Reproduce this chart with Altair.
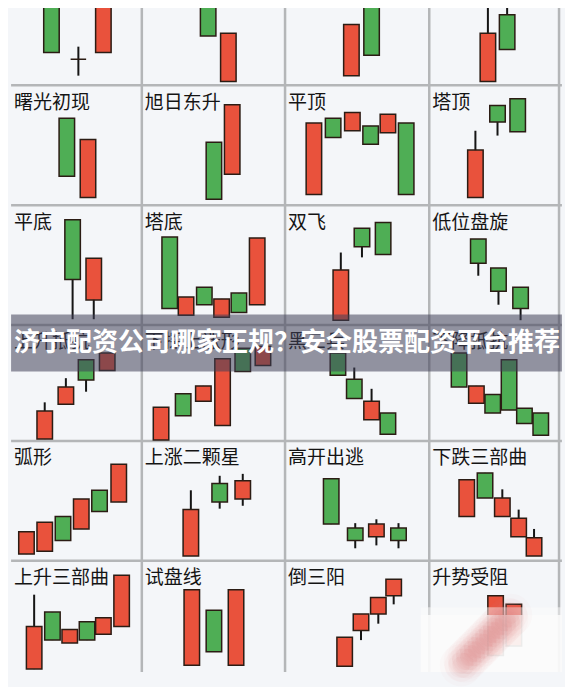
import altair as alt
import pandas as pd

# ---------------- data ----------------
pattern_names = ["", "", "", "",
                 "曙光初现", "旭日东升", "平顶", "塔顶",
                 "平底", "塔底", "双飞", "低位盘旋",
                 "上升抵抗", "下探上涨形", "黑三兵", "下降抵抗",
                 "弧形", "上涨二颗星", "高开出逃", "下跌三部曲",
                 "上升三部曲", "试盘线", "倒三阳", "升势受阻"]

# candles: cell index, time position inside cell, open, close, high, low (price units inside cell)
cand_cell = [0, 0, 0, 1, 1, 2, 2, 3, 3,
             4, 4, 5, 5, 6, 6, 6, 6, 6, 6, 7, 7, 7,
             8, 8, 9, 9, 9, 9, 9, 9, 10, 10, 10, 11, 11, 11,
             12, 12, 12, 12, 13, 13, 13, 13, 13, 13, 14, 14, 14, 14, 15, 15, 15, 15, 15, 15,
             16, 16, 16, 16, 16, 16, 17, 17, 17, 18, 18, 18, 18, 19, 19, 19, 19, 19,
             20, 20, 20, 20, 20, 20, 21, 21, 21, 22, 22, 22, 22, 23, 23]
cand_t = [42, 70, 96, 69, 90, 69, 90, 61, 81,
          58, 80, 75, 94, 30, 50, 70, 89, 107, 126, 48, 71, 92,
          64, 86, 29, 46, 65, 83, 101, 120, 58, 80, 102, 51, 72, 95,
          35, 57, 78, 100, 20, 43, 64, 84, 105, 126, 55, 72, 90, 107, 31, 49, 66, 83, 99, 116,
          16, 35, 54, 73, 92, 112, 51, 81, 105, 48, 73, 95, 118, 39, 58, 76, 93, 109,
          24, 43, 61, 79, 96, 115, 52, 75, 98, 62, 79, 97, 113, 69, 88]
cand_open = [90, 27, 34, 90, 4, 10, 90, 4, 73,
             90, 8, 65, 32, 11, 90, 77, 82, 75, 85, 8, 103, 110,
             109, 26, 91, 10, 39, 8, 33, 21, 5, 100, 106, 89, 59, 39,
             2, 38, 84, 73, 1, 49, 41, 16, 96, 78, 91, 64, 22, 29, 91, 39, 48, 84, 34, 29,
             7, 10, 46, 33, 73, 61, 5, 80, 64, 85, 34, 25, 34, 46, 91, 46, 25, 5,
             12, 71, 39, 61, 48, 56, 16, 73, 16, 15, 52, 69, 88, 26, 36]
cand_close = [34, 27, 90, 51, 54, 63, 31, 54, 37,
              30, 68, 6, 104, 85, 70, 96, 63, 94, 11, 57, 86, 76,
              47, 69, 17, 29, 21, 27, 13, 90, 57, 81, 73, 64, 35, 17,
              31, 56, 63, 91, 35, 26, 57, 85, 72, 98, 68, 44, 41, 7, 56, 57, 29, 32, 18, 6,
              30, 40, 21, 64, 51, 100, 53, 61, 83, 38, 21, 38, 21, 84, 65, 65, 44, 24,
              56, 42, 53, 42, 65, 109, 94, 30, 94, 45, 69, 86, 105, 88, 79]
cand_high = [90, 40, 90, 90, 54, 63, 90, 90, 90,
             90, 68, 65, 104, 85, 90, 96, 82, 94, 85, 77, 103, 110,
             109, 69, 91, 29, 39, 27, 33, 90, 75, 100, 106, 89, 59, 39,
             40, 65, 84, 91, 35, 49, 57, 85, 96, 98, 91, 76, 54, 29, 91, 57, 48, 84, 34, 29,
             30, 40, 46, 64, 73, 100, 73, 88, 90, 85, 39, 43, 39, 84, 91, 74, 53, 33,
             89, 71, 53, 61, 65, 109, 94, 73, 94, 45, 69, 86, 105, 88, 79]
cand_low = [34, 10, 34, 51, 4, 10, 31, 4, 37,
            30, 8, 6, 32, 11, 70, 77, 63, 75, 11, 8, 72, 76,
            6, 6, 17, 10, 21, 8, 13, 21, 5, 70, 73, 51, 21, 5,
            2, 38, 51, 73, 1, 26, 41, 16, 72, 78, 68, 44, 22, 7, 56, 39, 29, 32, 18, 6,
            7, 10, 21, 33, 51, 61, 5, 54, 57, 38, 13, 16, 13, 46, 65, 46, 25, 5,
            12, 42, 39, 42, 48, 56, 16, 30, 16, 15, 42, 59, 79, 26, 36]

banner_text = "济宁配资公司哪家正规？安全股票配资平台推荐"

# watermark smear (blurred pink streak)
smear_x = [468, 472, 476, 480, 484, 488, 492, 496, 500, 504, 508, 512, 516, 520]
smear_y = [680, 676, 672, 668, 664, 660, 656, 652, 648, 644, 640, 636, 632, 628]

# ---------------- layout ----------------
col_left = [0, 136, 285, 435]
row_top = [-44, 80, 204, 328, 448, 572]
row_bottom = [80, 204, 328, 448, 572, 696]
v_lines = [136, 285, 435, 570]
h_lines = [80, 204, 328, 448, 572]

RED = "#e9523c"
GREEN = "#4fae55"
EDGE = "#2b1c14"
BG = "#f4f6f9"

xs = alt.Scale(domain=[2, 571], nice=False, zero=False)
ys = alt.Scale(domain=[0, 687], nice=False, zero=False, reverse=True)


def X(f):
    return alt.X(f, type="quantitative", scale=xs, axis=None)


def Y(f):
    return alt.Y(f, type="quantitative", scale=ys, axis=None)


rows = []
for i in range(len(cand_cell)):
    cell = cand_cell[i]
    r, c = divmod(cell, 4)
    base = row_bottom[r]
    o, cl = cand_open[i], cand_close[i]
    kind = "up" if cl > o else ("down" if cl < o else "flat")
    rows.append({
        "gx": col_left[c] + cand_t[i],
        "top": base - max(o, cl),
        "bot": base - min(o, cl),
        "hi": base - cand_high[i],
        "lo": base - cand_low[i],
        "kind": kind,
    })
cdf = pd.DataFrame(rows)

label_df = pd.DataFrame([
    {"x": col_left[k % 4] + 3, "y": row_top[k // 4] + 18, "name": n}
    for k, n in enumerate(pattern_names) if n
])

vdf = pd.DataFrame({"x": v_lines, "y": [0] * len(v_lines), "y2": [687] * len(v_lines)})
hdf = pd.DataFrame({"y": h_lines, "x": [0] * len(h_lines), "x2": [573] * len(h_lines)})

vgrid = alt.Chart(vdf).mark_rule(color="#b4b6b8", strokeWidth=2.5, clip=True).encode(
    x=X("x"), y=Y("y"), y2="y2")
hgrid = alt.Chart(hdf).mark_rule(color="#b4b6b8", strokeWidth=2.5, clip=True).encode(
    y=Y("y"), x=X("x"), x2="x2")

wicks = alt.Chart(cdf).mark_rule(color="#151515", strokeWidth=2, clip=True).encode(
    x=X("gx"), y=Y("hi"), y2="lo")

bodies = alt.Chart(cdf).mark_bar(size=15.5, stroke=EDGE, strokeWidth=1.5, clip=True).encode(
    x=X("gx"), y=Y("top"), y2="bot",
    fill=alt.Fill("kind:N", scale=alt.Scale(domain=["up", "down", "flat"],
                                            range=[RED, GREEN, "#151515"]), legend=None),
)

labels = alt.Chart(label_df).mark_text(
    align="left", baseline="middle", font="Noto Sans CJK SC", fontSize=19, color="#141414"
).encode(x=X("x"), y=Y("y"), text="name:N")

banner_df = pd.DataFrame({"x": [0], "x2": [573], "y": [317], "y2": [376]})
banner = alt.Chart(banner_df).mark_rect(color="#3f3f57", opacity=0.55).encode(
    x=X("x"), x2="x2", y=Y("y"), y2="y2")

btext_df = pd.DataFrame({"x": [287], "y": [347], "t": [banner_text]})
btext = alt.Chart(btext_df).mark_text(
    align="center", baseline="middle", font="Noto Sans CJK SC", fontSize=26,
    fontWeight="bold", color="white"
).encode(x=X("x"), y=Y("y"), text="t:N")

wm_df = pd.DataFrame({"x": [426], "x2": [573], "y": [628], "y2": [687]})
wm = alt.Chart(wm_df).mark_rect(color="#fbfbfb", opacity=0.93).encode(
    x=X("x"), x2="x2", y=Y("y"), y2="y2")
wm_edge_df = pd.DataFrame({"x": [426], "x2": [573], "y": [620], "y2": [628]})
wm_edge = alt.Chart(wm_edge_df).mark_rect(color="#fbfbfb", opacity=0.5).encode(
    x=X("x"), x2="x2", y=Y("y"), y2="y2")

smear_df = pd.DataFrame({"x": smear_x, "y": smear_y})
smear_layers = [
    alt.Chart(smear_df).mark_circle(color="#e07f79", opacity=op, size=sz).encode(
        x=X("x"), y=Y("y"))
    for sz, op in [(1800, 0.03), (1100, 0.04), (650, 0.05), (300, 0.06)]
]

chart = alt.layer(vgrid, hgrid, wicks, bodies, labels, banner, btext, wm_edge, wm,
                  *smear_layers).properties(
    width=557, height=679, padding=0, background=BG,
    autosize=alt.AutoSizeParams(type="fit", contains="padding"),
).configure_view(stroke=None, fill=BG)

chart.save("out.html", embed_options={"renderer": "svg", "actions": False})
